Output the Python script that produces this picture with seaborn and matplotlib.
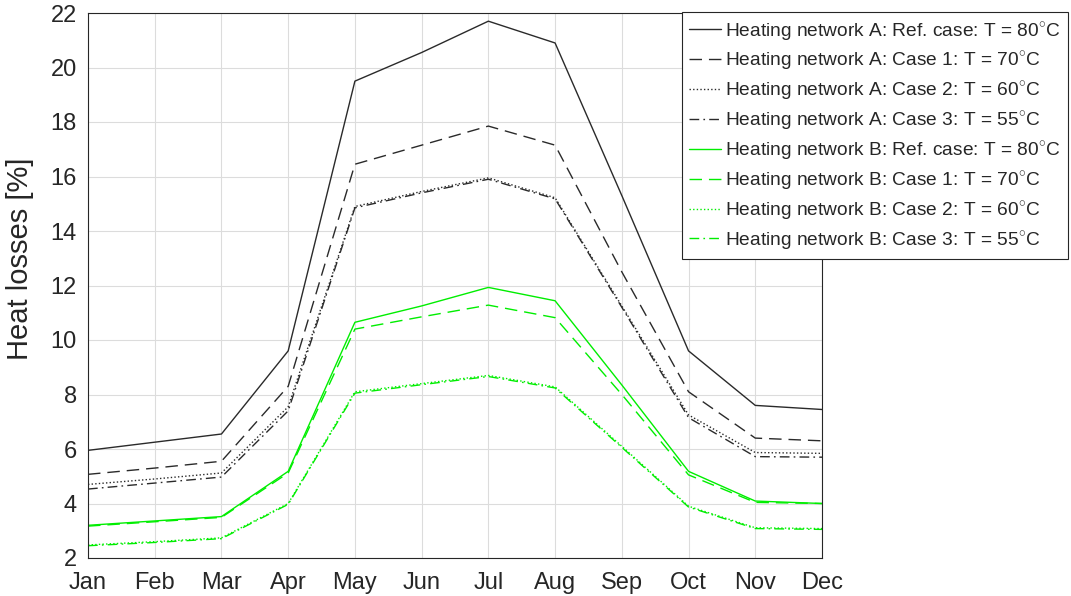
import numpy as np
import pandas as pd
import matplotlib
matplotlib.use("Agg")
import matplotlib.pyplot as plt
import seaborn as sns

months = ["Jan", "Feb", "Mar", "Apr", "May", "Jun", "Jul", "Aug", "Sep", "Oct", "Nov", "Dec"]

a_ref = [5.95, 6.25, 6.55, 9.6, 19.5, 20.55, 21.7, 20.9, 15.3, 9.6, 7.6, 7.45]
a_c1 = [5.07, 5.3, 5.55, 8.3, 16.45, 17.15, 17.85, 17.15, 12.5, 8.1, 6.4, 6.3]
a_c2 = [4.7, 4.9, 5.12, 7.55, 14.9, 15.45, 15.95, 15.22, 11.25, 7.25, 5.87, 5.84]
a_c3 = [4.53, 4.75, 4.97, 7.4, 14.85, 15.4, 15.9, 15.18, 11.2, 7.15, 5.72, 5.7]
b_ref = [3.2, 3.36, 3.52, 5.18, 10.65, 11.25, 11.93, 11.44, 8.35, 5.18, 4.09, 4.0]
b_c1 = [3.17, 3.33, 3.49, 5.12, 10.4, 10.85, 11.28, 10.82, 8.0, 5.05, 4.04, 4.0]
b_c2 = [2.48, 2.6, 2.74, 4.0, 8.1, 8.4, 8.7, 8.28, 6.1, 3.9, 3.11, 3.08]
b_c3 = [2.45, 2.57, 2.71, 3.97, 8.05, 8.36, 8.66, 8.24, 6.06, 3.87, 3.08, 3.05]

labels = [
    "Heating network A: Ref. case: T = 80$^{\\circ}$C",
    "Heating network A: Case 1: T = 70$^{\\circ}$C",
    "Heating network A: Case 2: T = 60$^{\\circ}$C",
    "Heating network A: Case 3: T = 55$^{\\circ}$C",
    "Heating network B: Ref. case: T = 80$^{\\circ}$C",
    "Heating network B: Case 1: T = 70$^{\\circ}$C",
    "Heating network B: Case 2: T = 60$^{\\circ}$C",
    "Heating network B: Case 3: T = 55$^{\\circ}$C",
]
series = [a_ref, a_c1, a_c2, a_c3, b_ref, b_c1, b_c2, b_c3]

sns.set_style("whitegrid")
plt.rcParams['font.family'] = ['Liberation Sans', 'DejaVu Sans']
plt.rcParams['mathtext.fontset'] = 'custom'
plt.rcParams['mathtext.rm'] = 'Liberation Sans'

dark = "#262626"
blk = "#2a2a2a"
grn = "#00ee00"
colors = [blk] * 4 + [grn] * 4
styles = ["-", (0, (9, 5)), (0, (1, 1.6)), (0, (7, 3, 1.2, 3))] * 2

fig = plt.figure(figsize=(10.71, 5.96), dpi=100)
ax = fig.add_axes([88 / 1071, 1 - 558 / 596, (822 - 88) / 1071, (558 - 13) / 596])

x = np.arange(len(months))
for vals, lab, c, ls in zip(series, labels, colors, styles):
    sns.lineplot(x=x, y=vals, ax=ax, color=c, linestyle=ls, linewidth=1.0, label=lab)

ax.set_xlim(0, 11)
ax.set_ylim(2, 22)
ax.set_xticks(x)
ax.set_xticklabels(months)
ax.set_yticks(np.arange(2, 23, 2))
ax.tick_params(axis="both", direction="in", length=5, width=0.8, colors=dark,
               labelsize=17, labelcolor=dark, top=False, right=False)
ax.tick_params(axis="x", pad=10)
ax.tick_params(axis="y", pad=8)
ax.grid(True, color="#dcdcdc", linewidth=0.8)
for s in ax.spines.values():
    s.set_color(dark)
    s.set_linewidth(0.8)
    s.set_visible(True)
ax.set_ylabel("Heat losses [%]", fontsize=21, color=dark)
ax.yaxis.set_label_coords(-0.073, 0.55)
ax.set_xlabel("")

leg = ax.legend(loc="upper right", bbox_to_anchor=(1068 / 1071, 1 - 12 / 596),
                bbox_transform=fig.transFigure, borderaxespad=0, fontsize=13.8,
                handlelength=1.65, handletextpad=0.2, labelspacing=0.36,
                borderpad=0.4, fancybox=False, framealpha=1, edgecolor=dark)
leg.get_frame().set_linewidth(0.8)
for t in leg.get_texts():
    t.set_color(dark)

fig.savefig("out.png", dpi=100)
